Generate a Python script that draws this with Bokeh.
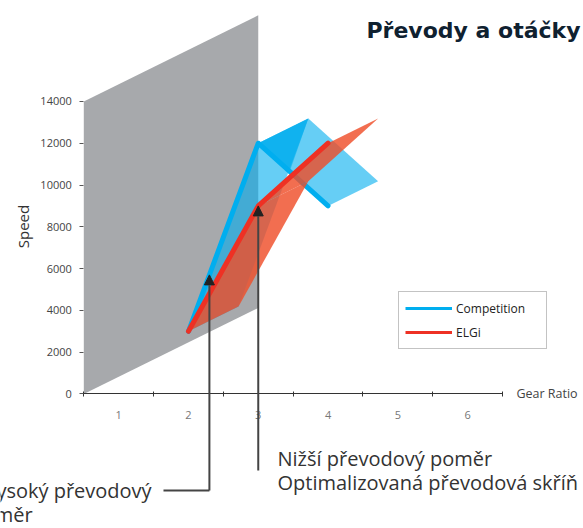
import numpy as np
from bokeh.plotting import figure
from bokeh.models import (Range1d, FixedTicker, Label, Arrow, NormalHead,
                          Legend, LegendItem)
from bokeh.core.properties import value
from bokeh.embed import file_html
from bokeh.resources import INLINE

# ---- data -------------------------------------------------------------
gear_ratio = [2, 3, 4]
competition = [3000, 12000, 9000]
elgi = [3000, 9000, 12000]
x_ticks = [1, 2, 3, 4, 5, 6]
y_ticks = [0, 2000, 4000, 6000, 8000, 10000, 12000, 14000]
series_names = ["Competition", "ELGi"]
title_text = "Převody a otáčky"
note_high = ["Vysoký převodový", "poměr"]
note_low = ["Nižší převodový poměr", "Optimalizovaná převodová skříň"]
arrow_x = [2.3, 3.0]          # gear ratio pointed at by the two call-outs

# ---- pseudo 3-D geometry ---------------------------------------------
X0, X1 = 0.5, 6.5
Y_TOP = y_ticks[-1]
DEPTH_X, DEPTH_Y = 2.5, 4120   # depth of the back wall
RIB = 0.287                    # ribbon depth as a share of the wall depth
RX, RY = DEPTH_X * RIB, DEPTH_Y * RIB

FONT = "Open Sans"

p = figure(width=583, height=528, output_backend="svg", toolbar_location=None,
           x_range=Range1d(-0.6937, 7.661), y_range=Range1d(-6436, 18829),
           min_border=0, outline_line_color=None, background_fill_color="white")
p.grid.visible = False

# back wall
p.patch([X0, X0, X0 + DEPTH_X, X0 + DEPTH_X],
        [0, Y_TOP, Y_TOP + DEPTH_Y, DEPTH_Y],
        fill_color="#a7a9ac", line_color=None)


def ribbon(xs, ys):
    px, py = [], []
    for i in range(len(xs) - 1):
        px.append([xs[i], xs[i + 1], xs[i + 1] + RX, xs[i] + RX])
        py.append([ys[i], ys[i + 1], ys[i + 1] + RY, ys[i] + RY])
    return px, py


# competition ribbon
bx, by = ribbon(gear_ratio, competition)
p.patches(bx, by, fill_color="#00aeef", fill_alpha=0.6, line_color=None)
k = 0.45
mx = gear_ratio[1] + k * (gear_ratio[2] - gear_ratio[1])
my = competition[1] + k * (competition[2] - competition[1])
p.patch([gear_ratio[1], gear_ratio[1] + RX, mx],
        [competition[1], competition[1] + RY, my],
        fill_color="#00aeef", fill_alpha=0.6, line_color=None)
lb = p.line(gear_ratio, competition, line_color="#00aeef", line_width=3)
p.line(gear_ratio, competition, line_color="#00aeef", line_width=5,
       line_join="round", line_cap="round")

# ELGi ribbon
rx_, ry_ = ribbon(gear_ratio, elgi)
p.patches(rx_, ry_, fill_color="#ef4e2a", fill_alpha=0.82, line_color=None)
lr = p.line(gear_ratio, elgi, line_color="#ee3124", line_width=3)
p.line(gear_ratio, elgi, line_color="#ee3124", line_width=5,
       line_join="round", line_cap="round")

# legend (thin sample lines, hidden below the thick series lines)
legend = Legend(items=[LegendItem(label=series_names[0], renderers=[lb]),
                       LegendItem(label=series_names[1], renderers=[lr])],
                location=(398, 179), glyph_width=47, glyph_height=20,
                label_height=20, label_width=84, padding=6, spacing=4,
                label_standoff=4, label_text_font=FONT,
                label_text_font_size="12px", label_text_color="#222",
                border_line_color="#888", border_line_width=1,
                background_fill_color="white", background_fill_alpha=1)
p.add_layout(legend)

# axes
yax = p.yaxis[0]
yax.ticker = FixedTicker(ticks=y_ticks)
yax.bounds = (0, Y_TOP)
yax.fixed_location = X0
yax.axis_line_color = None
yax.major_tick_in = 0
yax.major_tick_out = 4
yax.major_tick_line_color = "#555"
yax.minor_tick_line_color = None
yax.major_label_standoff = 8
yax.major_label_text_font = FONT
yax.major_label_text_font_size = "11px"
yax.major_label_text_color = "#444"

xax = p.xaxis[0]
xax.ticker = FixedTicker(ticks=x_ticks, minor_ticks=[X0 + i for i in range(7)])
xax.bounds = (X0, X1)
xax.fixed_location = 0
xax.axis_line_color = "#333"
xax.major_tick_in = 0
xax.major_tick_out = 0
xax.minor_tick_in = 2
xax.minor_tick_out = 3
xax.minor_tick_line_color = "#333"
xax.major_label_standoff = 14
xax.major_label_text_font = FONT
xax.major_label_text_font_size = "11px"
xax.major_label_text_color = "#777"

# axis titles and chart title
p.add_layout(Label(x=6.70, y=0, text="Gear Ratio", text_font=FONT,
                   text_font_size="12.5px", text_color="#444",
                   text_baseline="middle", text_align="left"))
p.add_layout(Label(x=-0.378, y=8014, text="Speed", angle=np.pi / 2,
                   text_font=FONT, text_font_size="15px", text_color="#333",
                   text_baseline="middle", text_align="center"))
p.add_layout(Label(x=4.55, y=17392, text=title_text, text_font="DejaVu Sans",
                   text_font_style="bold", text_font_size="22px",
                   text_color="#0f2130", text_baseline="alphabetic",
                   text_align="left"))

# call-outs
tips = [float(np.interp(arrow_x[0], gear_ratio, competition)),
        float(np.interp(arrow_x[1], gear_ratio, elgi))]
leader_bottom = [-4617, -3660]
leader_left = 1.642
p.line([leader_left, arrow_x[0]], [leader_bottom[0], leader_bottom[0]],
       line_color="#444", line_width=2)
for ax_, yb, yt in zip(arrow_x, leader_bottom, tips):
    p.add_layout(Arrow(end=NormalHead(size=10, fill_color="#222",
                                      line_color="#222"),
                       x_start=ax_, y_start=yb, x_end=ax_, y_end=yt,
                       line_color="#444", line_width=2))

NOTE_SIZE = "20px"
p.text(x=[1.472], y=[-4617], text=note_high[:1],
       text_font=value(FONT), text_font_size=NOTE_SIZE, text_color="#333",
       text_baseline="middle", text_align="right")
p.text(x=[-1.124], y=[-5766], text=note_high[1:],
       text_font=value(FONT), text_font_size=NOTE_SIZE, text_color="#333",
       text_baseline="middle", text_align="left")
p.text(x=[3.276, 3.276], y=[-3086, -4234], text=note_low,
       text_font=value(FONT), text_font_size=NOTE_SIZE, text_color="#333",
       text_baseline="middle", text_align="left")

open("out.html", "w").write(file_html(p, INLINE))
